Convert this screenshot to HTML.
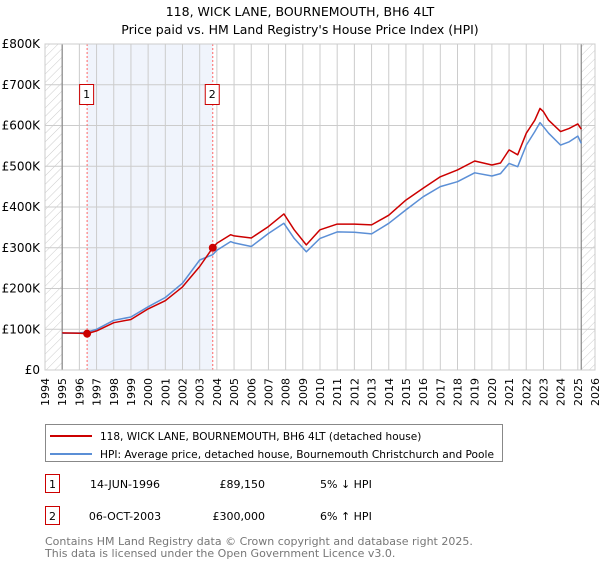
<!DOCTYPE html>
<html><head><meta charset="utf-8"><style>
body{margin:0;background:#fff;font-family:"DejaVu Sans","Liberation Sans",sans-serif;}
svg text{font-family:"DejaVu Sans","Liberation Sans",sans-serif;}
</style></head><body>
<svg id="c" width="600" height="560" xmlns="http://www.w3.org/2000/svg">
<defs><pattern id="hatch" width="6" height="6" patternUnits="userSpaceOnUse" patternTransform="rotate(45)"><line x1="0" y1="0" x2="0" y2="6" stroke="#ccc" stroke-width="1"/></pattern></defs>
<text x="300" y="16" text-anchor="middle" font-size="12.5">118, WICK LANE, BOURNEMOUTH, BH6 4LT</text>
<text x="300" y="34" text-anchor="middle" font-size="12.5">Price paid vs. HM Land Registry's House Price Index (HPI)</text>
<g id="plot"></g>
<g>
<rect x="45.5" y="424.5" width="457" height="37" fill="#fff" stroke="#888"/>
<line x1="50" y1="436" x2="92" y2="436" stroke="#cc0000" stroke-width="2"/>
<text x="100" y="440" font-size="10.5">118, WICK LANE, BOURNEMOUTH, BH6 4LT (detached house)</text>
<line x1="50" y1="454" x2="92" y2="454" stroke="#5b8fd6" stroke-width="2"/>
<text x="100" y="458" font-size="10.5" textLength="394" lengthAdjust="spacingAndGlyphs">HPI: Average price, detached house, Bournemouth Christchurch and Poole</text>
</g>
<g font-size="11">
<rect x="45.5" y="474.5" width="14" height="18" fill="#fff" stroke="#cc0000"/>
<text x="52.5" y="488" text-anchor="middle">1</text>
<text x="125" y="488" text-anchor="middle">14-JUN-1996</text>
<text x="265" y="488" text-anchor="end">£89,150</text>
<text x="320" y="488">5% ↓ HPI</text>
<rect x="45.5" y="506.5" width="14" height="18" fill="#fff" stroke="#cc0000"/>
<text x="52.5" y="520" text-anchor="middle">2</text>
<text x="125" y="520" text-anchor="middle">06-OCT-2003</text>
<text x="265" y="520" text-anchor="end">£300,000</text>
<text x="320" y="520">6% ↑ HPI</text>
</g>
<text x="45" y="545" font-size="11" fill="#777">Contains HM Land Registry data © Crown copyright and database right 2025.</text>
<text x="45" y="557" font-size="11" fill="#777">This data is licensed under the Open Government Licence v3.0.</text>
</svg>
<script>
const years=[1995,1996,1996.45,1997,1998,1999,2000,2001,2002,2003,2003.76,2004,2004.8,2005,2006,2007,2007.9,2008.5,2009.2,2010,2011,2012,2013,2014,2015,2016,2017,2018,2019,2020,2020.5,2021,2021.5,2022,2022.5,2022.8,2023,2023.3,2024,2024.5,2025,2025.2];
const priceK=[91,90,89.15,96,116,124,150,170,204,254,300,311,332,329,324,352,383,344,307,344,358,358,356,380,417,446,474,491,513,503,508,540,528,581,613,642,634,613,585,593,604,591];
const hpiK=[90,91,93,100,122,130,155,178,213,270,283,294,315,312,303,335,360,323,290,323,339,338,334,360,393,425,450,462,484,476,482,507,499,552,585,607,597,581,552,560,574,556];
const yTicks=[0,100,200,300,400,500,600,700,800];
const yTickLabels=["£0","£100K","£200K","£300K","£400K","£500K","£600K","£700K","£800K"];
const xTicks=[];for(let y=1994;y<=2026;y++)xTicks.push(y);
const sales=[{n:"1",t:1996.45,v:89.15},{n:"2",t:2003.76,v:300}];
const X0=45,X1=595,Y0=370,Y1=44;
const xs=t=>X0+(t-1994)/(2026-1994)*(X1-X0);
const ys=v=>Y0-v/800*(Y0-Y1);
const NS="http://www.w3.org/2000/svg";
const g=document.getElementById('plot');
function mk(tag,attrs,parent){const e=document.createElementNS(NS,tag);for(const k in attrs)e.setAttribute(k,attrs[k]);(parent||g).appendChild(e);return e;}
let e;
e=mk('rect',{x:xs(sales[0].t),y:Y1,width:xs(sales[1].t)-xs(sales[0].t),height:Y0-Y1,fill:'#f0f4fc'});


e=mk('rect',{x:X0,y:Y1,width:xs(1995)-X0,height:Y0-Y1,fill:'url(#hatch)'});


e=mk('rect',{x:xs(2025.2),y:Y1,width:X1-xs(2025.2),height:Y0-Y1,fill:'url(#hatch)'});


xTicks.forEach(y=>{
 e=mk('line',{x1:xs(y),x2:xs(y),y1:Y1,y2:Y0,stroke:'#ccc','stroke-width':1});
 
 
 e=mk('text',{x:0,y:0,'font-size':11,'text-anchor':'end',transform:`translate(${xs(y)+4},${Y0+8}) rotate(-90)`});
 e.textContent=y;
 
 
});
yTicks.forEach((v,i)=>{
 e=mk('line',{x1:X0,x2:X1,y1:ys(v),y2:ys(v),stroke:'#ccc','stroke-width':1});
 
 
 e=mk('text',{x:40,y:ys(v)+4,'font-size':12,'text-anchor':'end'});
 e.textContent=yTickLabels[i];
 
 
});
[1995,2025.2].forEach(t=>{e=mk('line',{x1:xs(t),x2:xs(t),y1:Y1,y2:Y0,stroke:'#888','stroke-width':1.2});
 
 });
sales.forEach(s=>{
 e=mk('line',{x1:xs(s.t),x2:xs(s.t),y1:Y1,y2:Y0,stroke:'#ff6666','stroke-width':1,'stroke-dasharray':'2,2'});
 
 
});
const pts=a=>a.map((v,i)=>xs(years[i]).toFixed(1)+','+ys(v).toFixed(1)).join(' ');
e=mk('polyline',{points:pts(hpiK),fill:'none',stroke:'#5b8fd6','stroke-width':1.5,'stroke-linejoin':'round'});


e=mk('polyline',{points:pts(priceK),fill:'none',stroke:'#cc0000','stroke-width':1.5,'stroke-linejoin':'round'});


sales.forEach(s=>{
 e=mk('circle',{cx:xs(s.t),cy:ys(s.v),r:4,fill:'#cc0000'});
 
 
 e=mk('rect',{x:xs(s.t)-7.5,y:84.5,width:14,height:20,fill:'#fff',stroke:'#cc0000'});
 
 
 e=mk('text',{x:xs(s.t)-0.5,y:98,'font-size':11,'text-anchor':'middle'});
 e.textContent=s.n;
 
 
});
e=mk('rect',{x:X0,y:Y1,width:X1-X0,height:Y0-Y1,fill:'none',stroke:'#ccc'});


</script>
</body></html>
